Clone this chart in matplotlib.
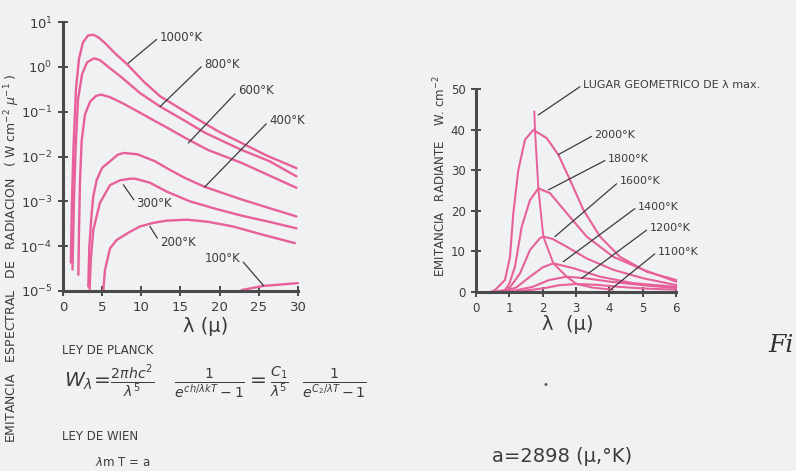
import numpy as np
import matplotlib.pyplot as plt

# ---- Ley de Planck: emitancia espectral (W cm^-2 micra^-1) frente a lambda (micras)
lam_1000 = [1.0, 1.15, 1.34, 1.66, 2.04, 2.55, 3.19, 3.83, 4.47, 5.36, 6.64, 8.17, 10.3, 12.4, 15.6, 17.5, 20.0, 22.8, 26.0, 29.8]
w_1000 = [4.3e-5, 1.1e-3, 1.6e-2, 0.32, 1.5, 3.5, 5.0, 5.2, 4.6, 3.4, 2.0, 1.15, 0.47, 0.22, 0.10, 0.063, 0.035, 0.020, 0.0105, 0.0055]

lam_800 = [1.21, 1.40, 1.60, 1.92, 2.43, 3.07, 3.96, 4.73, 6.0, 7.5, 9.83, 12.4, 15.6, 18.1, 22.8, 26.4, 29.8]
w_800 = [3.0e-5, 1.1e-3, 1.4e-2, 0.19, 0.68, 1.26, 1.55, 1.41, 0.93, 0.58, 0.26, 0.13, 0.062, 0.034, 0.014, 0.0078, 0.0036]

lam_600 = [1.96, 2.04, 2.17, 2.38, 2.81, 3.45, 4.2, 4.9, 6.0, 7.5, 9.5, 11.3, 13.5, 15.6, 18.5, 22.8, 26.3, 29.8]
w_600 = [2.3e-5, 2.1e-4, 2.8e-3, 2.2e-2, 8.7e-2, 0.166, 0.224, 0.24, 0.21, 0.158, 0.102, 0.068, 0.042, 0.026, 0.014, 0.0072, 0.0038, 0.0020]

lam_400 = [3.23, 3.36, 3.66, 3.87, 4.3, 5.0, 6.0, 7.0, 7.8, 9.5, 11.7, 13.5, 15.6, 18.1, 22.8, 26.3, 29.8]
w_400 = [1.26e-5, 9.8e-5, 5.5e-4, 1.3e-3, 3.0e-3, 5.6e-3, 7.8e-3, 1.1e-2, 1.2e-2, 1.12e-2, 7.9e-3, 5.2e-3, 3.3e-3, 2.1e-3, 1.1e-3, 7.1e-4, 4.6e-4]

lam_300 = [3.4, 3.55, 3.87, 4.7, 6.0, 7.3, 8.6, 9.2, 11.1, 13.2, 16.2, 19.5, 22.8, 26.3, 29.8]
w_300 = [1.1e-5, 5.0e-5, 2.3e-4, 9.1e-4, 2.3e-3, 2.95e-3, 3.2e-3, 3.2e-3, 2.6e-3, 1.66e-3, 1.0e-3, 6.8e-4, 4.8e-4, 3.5e-4, 2.5e-4]

lam_200 = [5.15, 5.36, 6.0, 6.86, 8.56, 9.83, 11.5, 13.2, 15.8, 18.5, 21.7, 25.5, 29.6]
w_200 = [1.05e-5, 2.95e-5, 8.9e-5, 1.38e-4, 2.1e-4, 2.75e-4, 3.3e-4, 3.7e-4, 3.9e-4, 3.5e-4, 2.75e-4, 1.8e-4, 1.17e-4]

lam_100 = [22.8, 25.6, 30.0]
w_100 = [1.05e-5, 1.3e-5, 1.5e-5]

planck_curves = [(lam_1000, w_1000), (lam_800, w_800), (lam_600, w_600),
                 (lam_400, w_400), (lam_300, w_300), (lam_200, w_200), (lam_100, w_100)]

# ---- Emitancia radiante (W cm^-2) frente a lambda, escala lineal
r_lam_2000 = [0.45, 0.57, 0.87, 1.02, 1.12, 1.27, 1.47, 1.72, 2.12, 2.47, 2.82, 3.22, 3.72, 4.32, 5.13, 6.0]
r_w_2000 = [0.0, 0.4, 2.9, 8.6, 19.4, 30.0, 37.5, 39.9, 37.9, 33.8, 27.6, 20.2, 13.6, 8.6, 4.9, 2.9]
r_lam_1800 = [0.55, 0.87, 1.0, 1.17, 1.37, 1.62, 1.87, 2.22, 2.72, 3.32, 4.12, 5.02, 6.0]
r_w_1800 = [0.0, 0.4, 2.0, 6.2, 16.0, 22.6, 25.5, 24.3, 19.4, 13.6, 8.6, 5.4, 2.5]
r_lam_1600 = [0.7, 0.97, 1.32, 1.62, 1.92, 2.02, 2.3, 2.72, 3.32, 4.12, 5.02, 6.0]
r_w_1600 = [0.0, 0.5, 4.5, 10.3, 13.2, 13.6, 13.0, 11.1, 8.2, 5.4, 3.3, 1.65]
r_lam_1400 = [0.8, 1.2, 1.62, 2.0, 2.32, 2.92, 3.72, 4.72, 6.0]
r_w_1400 = [0.0, 1.0, 3.7, 6.0, 7.0, 5.8, 3.7, 2.1, 1.2]
r_lam_1200 = [1.0, 1.7, 2.2, 2.72, 3.3, 4.0, 5.0, 6.0]
r_w_1200 = [0.0, 1.2, 2.9, 3.7, 3.3, 2.5, 1.6, 0.9]
r_lam_1100 = [1.2, 2.0, 2.5, 3.0, 3.6, 4.3, 5.0, 6.0]
r_w_1100 = [0.0, 0.8, 1.6, 1.9, 1.7, 1.2, 0.8, 0.5]

radiant_curves = [(r_lam_2000, r_w_2000), (r_lam_1800, r_w_1800), (r_lam_1600, r_w_1600),
                  (r_lam_1400, r_w_1400), (r_lam_1200, r_w_1200), (r_lam_1100, r_w_1100)]

# lugar geometrico de lambda max.
locus_lam = [1.75, 1.77, 1.87, 2.02, 2.32, 2.72, 3.02, 3.5, 4.1]
locus_w = [44.4, 39.9, 25.5, 13.6, 7.0, 3.7, 1.9, 1.0, 0.5]

left_yticks = [1e-5, 1e-4, 1e-3, 1e-2, 1e-1, 1e0, 1e1]
left_ylabels = [r'$10^{-5}$', r'$10^{-4}$', r'$10^{-3}$', r'$10^{-2}$', r'$10^{-1}$', r'$10^{0}$', r'$10^{1}$']
left_xticks = [0, 5, 10, 15, 20, 25, 30]
right_xticks = [0, 1, 2, 3, 4, 5, 6]
right_yticks = [0, 10, 20, 30, 40, 50]

PINK = '#e8609a'
INK = '#3c3c3c'
PAPER = '#eff1f3'
W, H = 796, 471


def fpos(x, y):
    return x / W, 1 - y / H


fig = plt.figure(figsize=(W / 100, H / 100), dpi=100, facecolor=PAPER)

# ---------------- panel izquierdo ----------------
ax1 = fig.add_axes([63 / W, 1 - 291 / H, 235 / W, 269 / H])
ax1.set_facecolor('none')
for lam, w in planck_curves:
    ax1.plot(lam, w, color=PINK, lw=1.7, solid_capstyle='round', clip_on=False)
ax1.set_yscale('log')
ax1.set_ylim(1e-5, 1e1)
ax1.set_xlim(0, 30)
ax1.set_yticks(left_yticks, labels=left_ylabels)
ax1.set_xticks(left_xticks)
ax1.minorticks_off()

left_notes = [
    ('1000°K', (8.3, 1.2), (12.3, 4.6)),
    ('800°K', (12.4, 0.13), (18.0, 1.15)),
    ('600°K', (16.0, 0.02), (22.3, 0.29)),
    ('400°K', (18.1, 2.1e-3), (26.3, 6.2e-2)),
    ('300°K', (7.7, 2.35e-3), (9.4, 8.8e-4)),
    ('200°K', (11.1, 2.75e-4), (12.4, 1.2e-4)),
    ('100°K', (25.6, 1.32e-5), (18.1, 5.2e-5)),
]
for txt, xy, xyt in left_notes:
    rel = (1, 0.5) if txt == '100°K' else (0, 0.5)
    ax1.annotate(txt, xy=xy, xytext=xyt, fontsize=8.5, color=INK, ha='left', va='center',
                 arrowprops=dict(arrowstyle='-', color=INK, lw=0.9, shrinkA=0, shrinkB=0,
                                 relpos=rel))

# ---------------- panel derecho ----------------
ax2 = fig.add_axes([476 / W, 1 - 291.7 / H, 200 / W, 202.7 / H])
ax2.set_facecolor('none')
for lam, w in radiant_curves:
    ax2.plot(lam, w, color=PINK, lw=1.5, clip_on=False)
ax2.plot(locus_lam, locus_w, color=PINK, lw=1.4, clip_on=False)
ax2.set_xlim(0, 6)
ax2.set_ylim(0, 50)
ax2.set_xticks(right_xticks)
ax2.set_yticks(right_yticks)

right_notes = [
    ('LUGAR GEOMETRICO DE λ max.', (1.87, 43.6), (3.2, 51.0)),
    ('2000°K', (2.47, 33.8), (3.55, 38.7)),
    ('1800°K', (2.17, 25.1), (3.95, 32.7)),
    ('1600°K', (2.37, 13.6), (4.3, 27.2)),
    ('1400°K', (2.62, 7.4), (4.85, 21.0)),
    ('1200°K', (3.17, 3.3), (5.2, 15.7)),
    ('1100°K', (4.02, 0.4), (5.45, 9.9)),
]
for txt, xy, xyt in right_notes:
    ax2.annotate(txt, xy=xy, xytext=xyt, fontsize=8, color=INK, ha='left', va='center',
                 annotation_clip=False,
                 arrowprops=dict(arrowstyle='-', color=INK, lw=0.9, shrinkA=0, shrinkB=0,
                                 relpos=(0, 0.5)))

for ax, fs in ((ax1, 9.5), (ax2, 8.5)):
    for s in ('top', 'right'):
        ax.spines[s].set_visible(False)
    for s in ('left', 'bottom'):
        ax.spines[s].set_linewidth(2.2)
        ax.spines[s].set_color('#4a4a4a')
    ax.tick_params(direction='inout', length=7, width=1.4, color='#4a4a4a',
                   labelsize=fs, labelcolor=INK, pad=4)

# ---------------- textos ----------------
fig.text(*fpos(12, 258), 'EMITANCIA   ESPECTRAL   DE   RADIACION   ( W cm$^{-2}$ $\\mu^{-1}$ )',
         rotation=90, ha='center', va='center', fontsize=9, color=INK)
fig.text(*fpos(440, 176), 'EMITANCIA   RADIANTE    W. cm$^{-2}$',
         rotation=90, ha='center', va='center', fontsize=8.5, color=INK)
fig.text(*fpos(206, 326), 'λ (μ)', ha='center', va='center', fontsize=14, color=INK)
fig.text(*fpos(568, 325), 'λ  (μ)', ha='center', va='center', fontsize=14, color=INK)

fig.text(*fpos(62, 351), 'LEY DE PLANCK', ha='left', va='center', fontsize=8.5, color=INK)
fig.text(*fpos(64, 382),
         r'$W_\lambda\!=\!\frac{2\pi h c^2}{\lambda^5}\quad\frac{1}{e^{ch/\lambda kT}-1}=\frac{C_1}{\lambda^5}\ \ \frac{1}{e^{C_2/\lambda T}-1}$',
         ha='left', va='center', fontsize=14.5, color=INK)
fig.text(*fpos(62, 437), 'LEY DE WIEN', ha='left', va='center', fontsize=8.5, color=INK)
fig.text(*fpos(95, 463), r'$\lambda$m T = a', ha='left', va='center', fontsize=8.5, color=INK)
fig.text(*fpos(492, 456), 'a=2898 (μ,°K)', ha='left', va='center', fontsize=14, color=INK)
fig.text(*fpos(768, 346), 'Fi', ha='left', va='center', fontsize=18, color='#333333',
         family='DejaVu Serif', style='italic')
fig.text(*fpos(545, 385), '•', ha='center', va='center', fontsize=7, color='#555555')

fig.savefig('out.png', dpi=100, facecolor=PAPER)
